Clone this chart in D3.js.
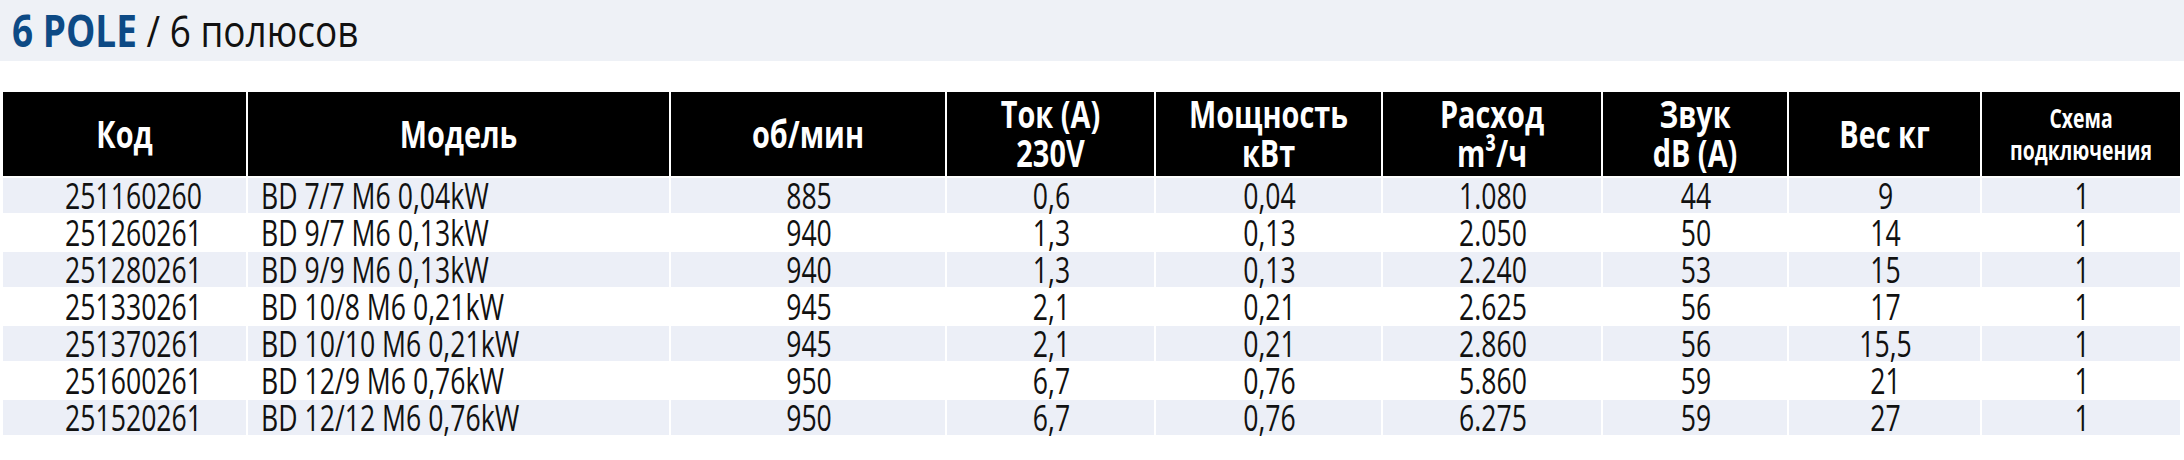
<!DOCTYPE html>
<html><head><meta charset="utf-8">
<script src="https://cdn.jsdelivr.net/npm/d3@7"></script>
<style>
body{margin:0;background:#fff;}
text{font-family:"Open Sans",sans-serif;}
</style></head>
<body><svg id="chart"></svg>
<script>
// table data
const headers = [
    ["Код"], ["Модель"], ["об/мин"], ["Ток (A)", "230V"], ["Мощность", "кВт"],
    ["Расход", "m³/ч"], ["Звук", "dB (A)"], ["Вес кг"], ["Схема", "подключения"]
];
const codes = ["251160260", "251260261", "251280261", "251330261", "251370261", "251600261", "251520261"];
const models = ["BD 7/7 M6 0,04kW", "BD 9/7 M6 0,13kW", "BD 9/9 M6 0,13kW", "BD 10/8 M6 0,21kW",
    "BD 10/10 M6 0,21kW", "BD 12/9 M6 0,76kW", "BD 12/12 M6 0,76kW"];
const rpm = ["885", "940", "940", "945", "945", "950", "950"];
const current = ["0,6", "1,3", "1,3", "2,1", "2,1", "6,7", "6,7"];
const power = ["0,04", "0,13", "0,13", "0,21", "0,21", "0,76", "0,76"];
const airflow = ["1.080", "2.050", "2.240", "2.625", "2.860", "5.860", "6.275"];
const sound = ["44", "50", "53", "56", "56", "59", "59"];
const weight = ["9", "14", "15", "17", "15,5", "21", "27"];
const scheme = ["1", "1", "1", "1", "1", "1", "1"];

const columns = [codes, models, rpm, current, power, airflow, sound, weight, scheme];
const colEdges = [3, 248, 671, 947, 1156, 1383, 1603, 1789, 1982, 2182];

const W = 2184, H = 460;
const headTop = 92, headBottom = 178, rowH = 37;

const svg = d3.select("#chart").attr("width", W).attr("height", H);

// condensed look via horizontal squeeze
function label(g, x, y, t, sx) {
    return g.append("text")
        .attr("transform", `translate(${x},${y}) scale(${sx},1)`)
        .attr("dy", "0.36em").text(t);
}

// title bar
svg.append("rect").attr("x", 0).attr("y", 0).attr("width", W).attr("height", 61).attr("fill", "#eef1f6");
const title = svg.append("text").attr("transform", `translate(12,47) scale(0.84,1)`).attr("font-size", 44);
title.append("tspan").attr("font-weight", "bold").attr("fill", "#0d4a85").text("6 POLE");
title.append("tspan").attr("fill", "#111").text(" / 6 полюсов");

const y = d3.scaleBand().domain(d3.range(codes.length))
    .range([headBottom, headBottom + rowH * codes.length]);

// header
const head = svg.append("g");
headers.forEach((lines, i) => {
    const x0 = colEdges[i], x1 = colEdges[i + 1];
    head.append("rect").attr("x", x0).attr("y", headTop).attr("width", x1 - x0 - 2)
        .attr("height", headBottom - headTop - 2).attr("fill", "#000");
    const small = i === 8;
    const fs = small ? 27 : 38;
    const lh = small ? 32 : 39;
    const cy = (headTop + headBottom) / 2 - 1 - (lines.length - 1) * lh / 2;
    lines.forEach((t, j) => {
        label(head, (x0 + x1) / 2 - 1, cy + j * lh, t, small ? 0.72 : 0.76)
            .attr("text-anchor", "middle").attr("font-size", fs)
            .attr("font-weight", "bold").attr("fill", "#fff");
    });
});

// rows
const body = svg.append("g");
codes.forEach((c, r) => {
    columns.forEach((col, i) => {
        const x0 = colEdges[i], x1 = colEdges[i + 1];
        if (r % 2 === 0) {
            body.append("rect").attr("x", x0).attr("y", y(r)).attr("width", x1 - x0 - 2)
                .attr("height", y.bandwidth() - 2).attr("fill", "#eceff7");
        }
        let tx = (x0 + x1) / 2, anchor = "middle";
        if (i === 0) { tx = x0 + 62; anchor = "start"; }
        if (i === 1) { tx = x0 + 13; anchor = "start"; }
        label(body, tx, y(r) + y.bandwidth() / 2, col[r], 0.74)
            .attr("text-anchor", anchor).attr("font-size", 36)
            .attr("fill", "#111");
    });
});
</script></body></html>
